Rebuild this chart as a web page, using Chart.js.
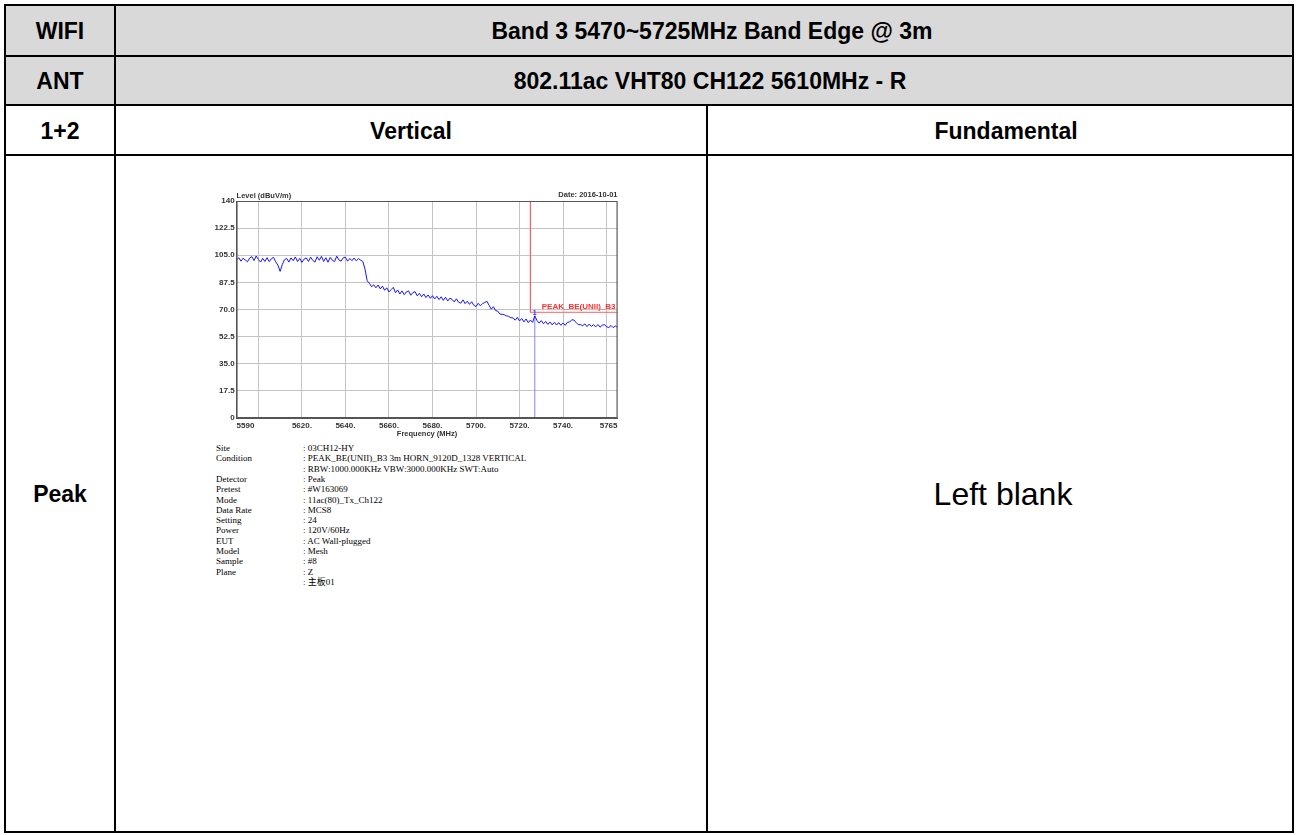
<!DOCTYPE html>
<html>
<head>
<meta charset="utf-8">
<title>Band Edge 5470~5725MHz</title>
<script src="https://cdn.jsdelivr.net/npm/chart.js@4.4.0/dist/chart.umd.min.js"></script>
<style>
  html, body { margin: 0; padding: 0; background: #fff; }
  body { width: 1298px; height: 835px; position: relative; overflow: hidden;
         font-family: "Liberation Sans", Arial, sans-serif; color: #000; }
  .bg { position: absolute; background: #d9d9d9; }
  .ln { position: absolute; background: #000; }
  .cell { position: absolute; display: flex; align-items: center; justify-content: center;
          font-weight: bold; font-size: 23px; padding-top: 2px; box-sizing: border-box; }
  .blank { font-weight: normal; font-size: 32px; }
  #chart { position: absolute; left: 194px; top: 184px; }
  .info { position: absolute; left: 216px; top: 443px; font-family: "Liberation Serif", "Noto Sans CJK SC", serif;
          font-size: 9px; line-height: 10.3px; color: #000; white-space: pre; }
  .info .k { position: absolute; left: 0; }
  .info .v { position: absolute; left: 87px; }
</style>
</head>
<body>
<div class="bg" style="left:5px;top:6px;width:1288px;height:99px;"></div>

<!-- table rules -->
<div class="ln" style="left:4px;top:4px;width:1290px;height:2px;"></div>
<div class="ln" style="left:4px;top:55px;width:1290px;height:2px;"></div>
<div class="ln" style="left:4px;top:104px;width:1290px;height:2px;"></div>
<div class="ln" style="left:4px;top:154px;width:1290px;height:2px;"></div>
<div class="ln" style="left:4px;top:831px;width:1290px;height:2px;"></div>
<div class="ln" style="left:4px;top:4px;width:2px;height:829px;"></div>
<div class="ln" style="left:114px;top:4px;width:2px;height:829px;"></div>
<div class="ln" style="left:706px;top:104px;width:2px;height:729px;"></div>
<div class="ln" style="left:1292px;top:4px;width:2px;height:829px;"></div>

<div class="cell" style="left:6px;top:6px;width:108px;height:49px;">WIFI</div>
<div class="cell" style="left:124px;top:6px;width:1176px;height:49px;">Band 3 5470~5725MHz Band Edge @ 3m</div>
<div class="cell" style="left:6px;top:57px;width:108px;height:47px;">ANT</div>
<div class="cell" style="left:122px;top:57px;width:1176px;height:47px;">802.11ac VHT80 CH122 5610MHz - R</div>
<div class="cell" style="left:6px;top:106px;width:108px;height:48px;">1+2</div>
<div class="cell" style="left:116px;top:106px;width:590px;height:48px;">Vertical</div>
<div class="cell" style="left:714px;top:106px;width:584px;height:48px;">Fundamental</div>
<div class="cell" style="left:6px;top:156px;width:108px;height:675px;">Peak</div>
<div class="cell blank" style="left:714px;top:156px;width:578px;height:675px;">Left blank</div>

<canvas id="chart" width="436" height="258"></canvas>

<div class="info" id="info"></div>

<script>
// sweep: 5590 .. 5765 MHz, 1 MHz per point
const sweepStartMHz = 5590;
const sweepStepMHz = 1;

// level (dBuV/m), 10 points per row
const traceLevels = [
  102.0, 103.4, 101.2, 103.1, 101.9, 100.8, 103.2, 104.1, 101.6, 104.5,
  102.3, 100.6, 103.0, 101.0, 103.4, 100.9, 102.8, 103.6, 100.7, 98.6,
  94.6, 99.0, 102.1, 103.0, 100.6, 103.3, 101.5, 103.9, 100.9, 103.0,
  100.4, 102.5, 103.3, 101.0, 103.8, 101.7, 100.6, 104.0, 101.8, 104.3,
  101.0, 103.4, 100.5, 103.6, 101.8, 100.9, 104.4, 102.0, 101.2, 103.4,
  103.7, 101.2, 102.9, 101.5, 103.2, 101.4, 102.9, 101.8, 101.0, 96.0,
  88.5, 86.9, 84.7, 85.9, 84.0, 85.8, 83.3, 85.1, 82.4, 84.0,
  81.3, 82.8, 84.3, 80.8, 82.6, 80.0, 82.0, 79.6, 81.3, 82.0,
  79.2, 80.9, 81.5, 78.8, 80.5, 78.2, 80.0, 77.7, 79.4, 77.2,
  78.9, 76.8, 78.5, 76.4, 78.2, 75.9, 77.9, 75.5, 77.3, 76.5,
  74.9, 76.9, 74.7, 74.1, 76.2, 73.8, 75.4, 73.3, 75.0, 72.7,
  71.9, 74.0, 72.4, 73.8, 74.5, 75.3, 72.7, 70.2, 71.8, 69.3,
  68.9, 67.0, 66.9, 66.6, 65.9, 65.6, 64.7, 64.6, 63.1, 64.9,
  62.6, 64.2, 62.0, 63.9, 61.5, 63.2, 61.7, 65.9, 62.9, 61.2,
  62.8, 60.8, 62.3, 60.4, 61.9, 60.1, 61.7, 60.0, 61.5, 59.8,
  61.3, 59.8, 61.8, 61.9, 63.4, 63.2, 61.6, 60.2, 60.3, 59.5,
  60.7, 59.0, 60.6, 59.1, 60.2, 58.8, 60.3, 58.6, 59.9, 60.2,
  58.9, 58.3, 59.7, 58.3, 59.4, 58.5
];

// limit line PEAK_BE(UNII)_B3
const limitFreqs = [5725, 5725, 5765];
const limitLevels = [140, 68.2, 68.2];

// marker 1
const markerFreq = 5727;
const markerLevel = 65.9;

const xTickValues = [5590, 5600, 5620, 5640, 5660, 5680, 5700, 5720, 5740, 5760, 5765];
const xTickLabels = ['5590', '', '5620.', '5640.', '5660.', '5680.', '5700.', '5720.', '5740.', '', '5765'];
const yTickValues = [0, 17.5, 35, 52.5, 70, 87.5, 105, 122.5, 140];
const yTickLabels = ['0', '17.5', '35.0', '52.5', '70.0', '87.5', '105.0', '122.5', '140'];

const infoKeys = ['Site', 'Condition', '', 'Detector', 'Pretest', 'Mode', 'Data Rate', 'Setting',
                  'Power', 'EUT', 'Model', 'Sample', 'Plane', ''];
const infoValues = [': 03CH12-HY', ': PEAK_BE(UNII)_B3 3m HORN_9120D_1328 VERTICAL',
                    ': RBW:1000.000KHz VBW:3000.000KHz SWT:Auto', ': Peak', ': #W163069',
                    ': 11ac(80)_Tx_Ch122', ': MCS8', ': 24', ': 120V/60Hz', ': AC Wall-plugged',
                    ': Mesh', ': #8', ': Z', ': 主板01'];

// info block under the plot
const info = document.getElementById('info');
infoKeys.forEach((k, i) => {
  const top = (i * 10.3) + 'px';
  const a = document.createElement('span');
  a.className = 'k'; a.style.top = top; a.textContent = k;
  const b = document.createElement('span');
  b.className = 'v'; b.style.top = top; b.textContent = infoValues[i];
  info.appendChild(a); info.appendChild(b);
});

const tracePoints = traceLevels.map((v, i) => ({ x: sweepStartMHz + i * sweepStepMHz, y: v }));
const limitPoints = limitFreqs.map((f, i) => ({ x: f, y: limitLevels[i] }));
const markerPoints = [{ x: markerFreq, y: 0 }, { x: markerFreq, y: markerLevel }];

const tickFont = { family: 'Liberation Sans, Arial, sans-serif', size: 8, weight: 'bold' };

// frame + captions + marker labels
const annotations = {
  id: 'annotations',
  afterDatasetsDraw(chart) {
    const { ctx, chartArea: a, scales } = chart;
    ctx.save();
    ctx.strokeStyle = '#555';
    ctx.lineWidth = 1;
    ctx.strokeRect(a.left + 0.5, a.top + 0.5, a.right - a.left - 1, a.bottom - a.top - 1);

    ctx.font = 'bold 7.5px "Liberation Sans", Arial, sans-serif';
    ctx.fillStyle = '#333';
    ctx.textBaseline = 'alphabetic';
    ctx.textAlign = 'left';
    ctx.fillText('Level (dBuV/m)', a.left, a.top - 3);
    ctx.textAlign = 'right';
    ctx.fillText('Date: 2016-10-01', a.right, a.top - 4);
    ctx.textAlign = 'center';
    ctx.fillText('Frequency (MHz)', (a.left + a.right) / 2, a.bottom + 18);

    const yl = scales.y.getPixelForValue(limitLevels[2]);
    ctx.font = 'bold 8px "Liberation Sans", Arial, sans-serif';
    ctx.fillStyle = '#ff3030';
    ctx.textAlign = 'right';
    ctx.fillText('PEAK_BE(UNII)_B3', a.right - 2, yl - 3);

    const mx = scales.x.getPixelForValue(markerFreq);
    const my = scales.y.getPixelForValue(markerLevel);
    ctx.fillStyle = '#3030ff';
    ctx.font = 'bold 7px "Liberation Sans", Arial, sans-serif';
    ctx.textAlign = 'center';
    ctx.fillText('1', mx, my - 1);
    ctx.restore();
  }
};

new Chart(document.getElementById('chart'), {
  type: 'line',
  data: {
    datasets: [
      { data: tracePoints, borderColor: 'rgb(20,20,255)', borderWidth: 1, pointRadius: 0, tension: 0 },
      { data: limitPoints, borderColor: 'rgb(255,95,95)', borderWidth: 1, pointRadius: 0, tension: 0 },
      { data: markerPoints, borderColor: 'rgba(110,110,255,0.85)', borderWidth: 1, pointRadius: 0, tension: 0 }
    ]
  },
  options: {
    responsive: false,
    animation: false,
    layout: { padding: { top: 17, right: 12.5, left: 0, bottom: 0 } },
    plugins: { legend: { display: false }, tooltip: { enabled: false } },
    scales: {
      x: {
        type: 'linear',
        min: 5590,
        max: 5765,
        afterBuildTicks: (s) => { s.ticks = xTickValues.map(v => ({ value: v })); },
        afterFit: (s) => { s.height = 24; },
        grid: { color: '#c4c4c4', lineWidth: 1, drawTicks: false },
        border: { color: '#555' },
        ticks: {
          align: 'inner',
          autoSkip: false,
          maxRotation: 0,
          padding: 3,
          color: '#333',
          font: tickFont,
          callback: (v) => xTickLabels[xTickValues.indexOf(v)]
        }
      },
      y: {
        min: 0,
        max: 140,
        afterBuildTicks: (s) => { s.ticks = yTickValues.map(v => ({ value: v })); },
        afterFit: (s) => { s.width = 42.6; },
        grid: { color: '#c4c4c4', lineWidth: 1, drawTicks: false },
        border: { color: '#555' },
        ticks: {
          padding: 2,
          color: '#333',
          font: tickFont,
          callback: (v) => yTickLabels[yTickValues.indexOf(v)]
        }
      }
    }
  },
  plugins: [annotations]
});
</script>
</body>
</html>
